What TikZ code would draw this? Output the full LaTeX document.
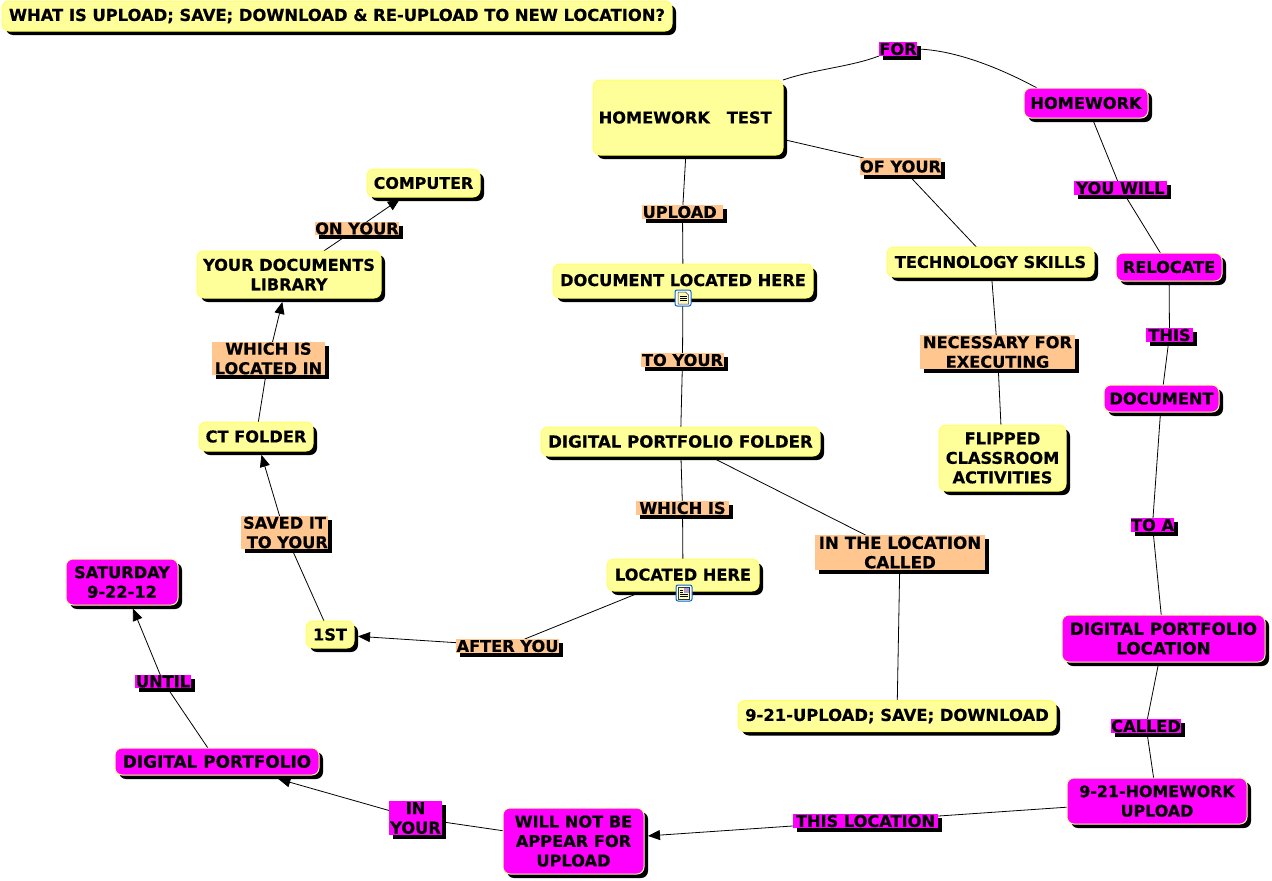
\documentclass[tikz,border=0pt]{standalone}
\usepackage{fontspec}
\setmainfont[BoldFeatures={FakeBold=0.5}]{DejaVu Sans}
\usetikzlibrary{shadows,backgrounds,arrows.meta}
\definecolor{cyel}{HTML}{FFFF99}
\definecolor{cyelb}{HTML}{FFFF66}
\definecolor{cmag}{HTML}{FF00FF}
\definecolor{cpeach}{HTML}{FFC690}
\tikzset{
  base/.style={font=\bfseries\fontsize{16.2}{19.5}\selectfont,align=center,inner sep=0pt,outer sep=0pt,text=black,
    general shadow={shadow xshift=4pt,shadow yshift=-4pt,fill=black}},
  sz/.style 2 args={minimum width=#1pt,minimum height=#2pt},
  fs/.style={font=\bfseries\fontsize{#1}{19.5}\selectfont},
  cyelnode/.style={base,rounded corners=7pt,fill=cyel,draw=cyelb,line width=1pt},
  cmagnode/.style={base,rounded corners=7pt,fill=cmag,draw=cyel,line width=1pt},
  lpeach/.style={base,fill=cpeach},
  lmag/.style={base,fill=cmag},
  conn/.style={line width=.8pt,black},
  arr/.style={conn,-{Triangle[length=12pt,width=10pt]},shorten >=4pt},
  iconbox/.style={draw=blue!50!cyan!80!black,fill=white,line width=1pt,rounded corners=2pt,minimum size=16pt,inner sep=0pt},
}
\begin{document}
\begin{tikzpicture}[x=1pt,y=-1pt]
% concepts
\node[cyelnode,sz={670}{30},fs=16.35] (title) at (337,16) {WHAT IS UPLOAD; SAVE; DOWNLOAD \& RE-UPLOAD TO NEW LOCATION?};
\node[cyelnode,sz={190}{75}] (hwt) at (688,117.5) {HOMEWORK\ \ \ TEST\ };
\node[cmagnode,sz={124}{30}] (hw) at (1086,103) {HOMEWORK};
\node[cyelnode,sz={113}{28},fs=15.9] (comp) at (423.5,183) {COMPUTER};
\node[cyelnode,sz={184}{47}] (lib) at (289,274.5) {YOUR DOCUMENTS\\LIBRARY};
\node[cyelnode,sz={260}{34}] (doc) at (683,281) {\raisebox{2pt}{DOCUMENT LOCATED HERE}};
\node[cyelnode,sz={207}{30}] (tech) at (990.5,262) {TECHNOLOGY SKILLS};
\node[cmagnode,sz={106}{28}] (reloc) at (1169,267) {RELOCATE};
\node[cmagnode,sz={115}{27}] (docm) at (1161.5,398.5) {DOCUMENT};
\node[cyelnode,sz={279}{29},fs=16.6] (dpf) at (680.5,441.5) {DIGITAL PORTFOLIO FOLDER};
\node[cyelnode,sz={114}{29}] (ct) at (256,436.5) {CT FOLDER};
\node[cyelnode,sz={127}{66}] (flip) at (1002.5,458) {FLIPPED\\CLASSROOM\\ACTIVITIES};
\node[cyelnode,sz={152}{32}] (lh) at (683,575) {\raisebox{1pt}{LOCATED HERE}};
\node[cmagnode,sz={112}{46}] (sat) at (122,582) {SATURDAY\\9-22-12};
\node[cyelnode,sz={48}{27}] (first) at (330,634.5) {1ST};
\node[cmagnode,sz={203}{47},fs=16.8] (dpl) at (1163.5,638.5) {DIGITAL PORTFOLIO\\LOCATION};
\node[cyelnode,sz={318}{31},fs=16.4] (up) at (897,716) {9-21-UPLOAD; SAVE; DOWNLOAD};
\node[cmagnode,sz={204}{27},fs=16.9] (dpm) at (217,761.5) {DIGITAL PORTFOLIO};
\node[cmagnode,sz={180}{46},fs=15.9] (hw921) at (1157,801) {9-21-HOMEWORK\\UPLOAD};
\node[cmagnode,sz={141}{66}] (wnb) at (573.5,841) {WILL NOT BE\\APPEAR FOR\\UPLOAD};
% link phrases
\node[lmag,sz={38}{14}] (lfor) at (898,49) {FOR};
\node[lpeach,sz={81}{14}] (lupload) at (682.5,212) {UPLOAD\ };
\node[lpeach,sz={81}{17}] (lofyour) at (900.5,166.5) {OF YOUR};
\node[lmag,sz={93}{14}] (lyouwill) at (1120.5,188) {YOU WILL};
\node[lpeach,sz={84}{13}] (lonyour) at (357,228.5) {ON YOUR};
\node[lpeach,sz={83}{14}] (ltoyour) at (682.5,360) {TO YOUR};
\node[lpeach,sz={113}{33}] (lwhichloc) at (268.5,358.5) {WHICH IS\\LOCATED IN};
\node[lpeach,sz={155}{34}] (lnec) at (997.5,352) {NECESSARY FOR\ \\EXECUTING};
\node[lmag,sz={47}{14}] (lthis) at (1169.5,335) {THIS};
\node[lmag,sz={43}{14}] (ltoa) at (1152.5,525) {TO A};
\node[lpeach,sz={93}{14}] (lwhichis) at (682.5,508) {WHICH IS};
\node[lpeach,sz={87}{33}] (lsaved) at (284.5,532.5) {SAVED IT\\\ TO YOUR};
\node[lpeach,sz={170}{35},fs=16.7] (lloc) at (900,552.5) {IN THE LOCATION\ \\CALLED};
\node[lpeach,sz={103}{14}] (lafter) at (507.5,646) {AFTER YOU};
\node[lmag,sz={56}{13}] (luntil) at (163,681.5) {UNTIL};
\node[lmag,sz={70}{14}] (lcalled) at (1146,726) {CALLED};
\node[lmag,sz={145}{14}] (lthisloc) at (865.5,821) {THIS LOCATION};
\node[lmag,sz={53}{34}] (linyour) at (415.5,818) {IN\\YOUR};
% document icons
\node[iconbox] (icona) at (683,298) {};
\fill[yellow!25,draw=black!80,line width=.5pt] (678,292) -- (685.5,292) -- (688.5,295) -- (688.5,304) -- (678,304) -- cycle;
\foreach \yy in {296.5,298.5,300.5}{\draw[black,line width=.5pt] (680,\yy) -- (686.5,\yy);}
\node[iconbox] (iconb) at (684,593) {};
\fill[yellow!25,draw=black!80,line width=.5pt] (678.5,587) rectangle (689.5,599);
\fill[blue!40] (683.5,588) rectangle (688.5,592.5);
\fill[orange!80] (685,589) rectangle (687,591);
\foreach \yy in {590,592}{\draw[black,line width=.5pt] (680,\yy) -- (683,\yy);}
\foreach \yy in {594.5,596.5}{\draw[black,line width=.5pt] (680,\yy) -- (688,\yy);}
\begin{scope}[on background layer]
\fill[white] (0,0) rectangle (1272,881);
\path[use as bounding box] (0,0) rectangle (1272,881);
\draw[conn] (hwt) -- (lupload);
\draw[conn] (lupload) -- (doc);
\draw[conn] (doc) -- (ltoyour);
\draw[conn] (ltoyour) -- (dpf);
\draw[conn] (dpf) -- (lwhichis);
\draw[conn] (lwhichis) -- (lh);
\draw[conn] (dpf) -- (lloc);
\draw[conn] (lloc) -- (up);
\draw[conn] (lh) -- (lafter);
\draw[arr] (lafter) -- (first);
\draw[conn] (first) -- (lsaved);
\draw[arr] (lsaved) -- (ct);
\draw[conn] (ct) -- (lwhichloc);
\draw[arr] (lwhichloc) -- (lib);
\draw[conn] (lib) -- (lonyour);
\draw[arr] (lonyour) -- (comp);
\draw[conn] (hwt) -- (lofyour);
\draw[conn] (lofyour) -- (tech);
\draw[conn] (tech) -- (lnec);
\draw[conn] (lnec) -- (flip);
\draw[conn] (hwt.north east) .. controls (815,69) and (850,67) .. (lfor.south west);
\draw[conn] (lfor.east) .. controls (955,50) and (1000,68) .. ([xshift=13pt]hw.north west);
\draw[conn] (hw) -- (lyouwill);
\draw[conn] (lyouwill) -- (reloc);
\draw[conn] (reloc) -- (lthis);
\draw[conn] (lthis) -- (docm);
\draw[conn] (docm) -- (ltoa);
\draw[conn] (ltoa) -- (dpl);
\draw[conn] (dpl) -- (lcalled);
\draw[conn] (lcalled) -- (hw921);
\draw[conn] (hw921) -- (lthisloc);
\draw[arr] (lthisloc) -- (wnb);
\draw[conn] (wnb) -- (linyour);
\draw[arr,shorten >=14.5pt] (linyour) -- (dpm);
\draw[conn] (dpm) -- (luntil);
\draw[arr] (luntil) -- (sat);
\end{scope}
\end{tikzpicture}
\end{document}
